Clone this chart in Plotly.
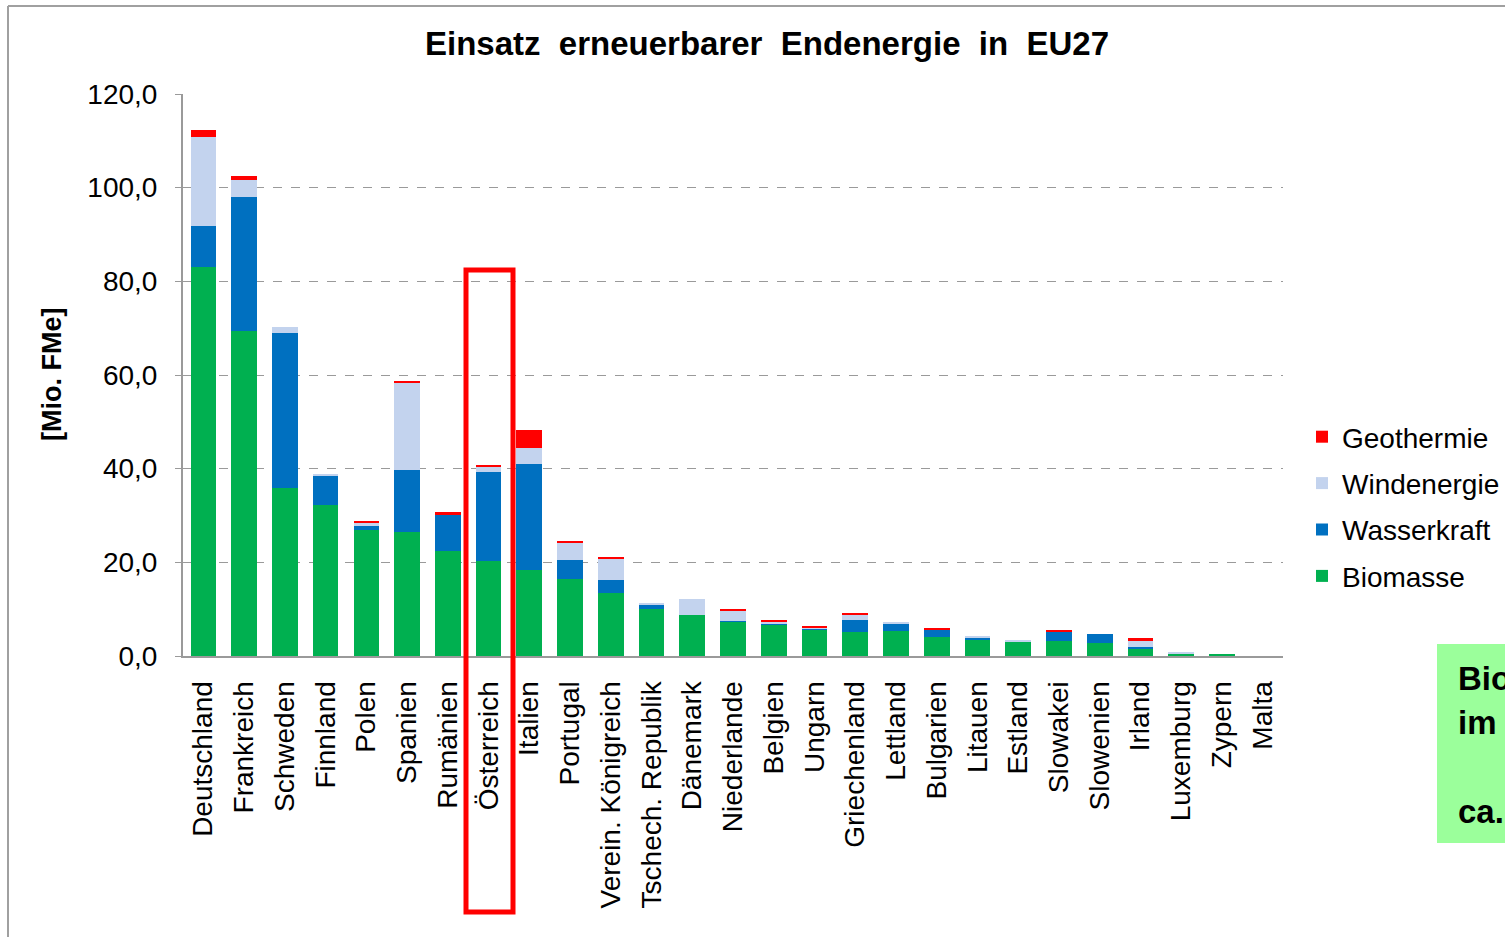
import plotly.graph_objects as go

countries = ["Deutschland", "Frankreich", "Schweden", "Finnland", "Polen", "Spanien",
             "Rumänien", "Österreich", "Italien", "Portugal", "Verein. Königreich",
             "Tschech. Republik", "Dänemark", "Niederlande", "Belgien", "Ungarn",
             "Griechenland", "Lettland", "Bulgarien", "Litauen", "Estland", "Slowakei",
             "Slowenien", "Irland", "Luxemburg", "Zypern", "Malta"]

biomasse = [83.0, 69.5, 35.9, 32.3, 26.9, 26.5, 22.4, 20.3, 18.3, 16.4, 13.4,
            10.0, 8.7, 7.4, 6.8, 5.6, 5.2, 5.3, 4.1, 3.6, 3.1, 3.1,
            2.8, 1.5, 0.6, 0.5, 0.0]
wasserkraft = [8.9, 28.5, 33.0, 6.3, 0.9, 13.2, 7.8, 19.0, 22.7, 4.1, 2.8,
               1.0, 0.0, 0.05, 0.2, 0.2, 2.4, 1.7, 1.5, 0.3, 0.0, 2.1,
               2.0, 0.35, 0.0, 0.0, 0.0]
windenergie = [19.0, 3.7, 1.3, 0.3, 0.7, 18.6, 0.1, 1.1, 3.4, 3.7, 4.7,
               0.4, 3.4, 2.2, 0.3, 0.2, 1.2, 0.3, 0.05, 0.2, 0.3, 0.0,
               0.0, 1.55, 0.2, 0.0, 0.0]
geothermie = [1.4, 0.7, 0.0, 0.0, 0.4, 0.4, 0.4, 0.3, 3.8, 0.4, 0.3,
              0.0, 0.0, 0.4, 0.4, 0.3, 0.3, 0.0, 0.3, 0.0, 0.0, 0.35,
              0.0, 0.4, 0.0, 0.0, 0.0]

y_tickvals = [0, 20, 40, 60, 80, 100, 120]
y_ticktext = ["0,0", "20,0", "40,0", "60,0", "80,0", "100,0", "120,0"]

# (name, values, colour, legend rank) - stacked bottom to top
series = [
    ("Biomasse", biomasse, "#00B050", 4),
    ("Wasserkraft", wasserkraft, "#0070C0", 3),
    ("Windenergie", windenergie, "#C3D3EE", 2),
    ("Geothermie", geothermie, "#FF0000", 1),
]

FONT = "Liberation Sans, Arial, sans-serif"

fig = go.Figure()
for name, vals, col, rank in series:
    fig.add_trace(go.Bar(
        x=countries, y=vals, name=name, legendgroup=name, legendrank=rank,
        marker=dict(color=col, line=dict(width=0)),
    ))

# plot area: x 183..1283, y 94..656
L, R, T, B = 183, 1283, 94, 656
W, H = 1505, 937

def px(x):
    return (x - L) / (R - L)

def py(y):
    return (B - y) / (B - T)

fig.update_layout(
    width=W, height=H,
    margin=dict(l=L, r=W - R, t=T, b=H - B, autoexpand=False),
    barmode="stack",
    bargap=0.37,
    plot_bgcolor="white",
    paper_bgcolor="white",
    font=dict(family=FONT, color="black"),
    title=dict(text="<b>Einsatz  erneuerbarer  Endenergie  in  EU27</b>",
               x=767 / W, xanchor="center", y=1 - 43 / H, yanchor="middle",
               font=dict(size=33, family=FONT, color="black")),
    legend=dict(
        x=px(1302), xanchor="left", y=py(412), yanchor="top",
        traceorder="grouped", tracegroupgap=7,
        font=dict(size=28, family=FONT, color="black"),
        bgcolor="rgba(0,0,0,0)",
    ),
    xaxis=dict(
        type="category",
        automargin=False,
        range=[-0.5, len(countries) - 0.5],
        tickangle=-90,
        tickfont=dict(size=28, family=FONT, color="black"),
        showline=True, linecolor="#9A9A9A", linewidth=2,
        showgrid=False, ticks="", ticklabelstandoff=12,
    ),
    yaxis=dict(
        automargin=False,
        range=[0, 120],
        tickvals=y_tickvals, ticktext=y_ticktext,
        tickfont=dict(size=28, family=FONT, color="black"),
        showline=True, linecolor="#9A9A9A", linewidth=2,
        ticks="outside", ticklen=6, tickcolor="#9A9A9A", tickwidth=1,
        ticklabelstandoff=12,
        showgrid=True, gridcolor="#9A9A9A", griddash="dash", gridwidth=1,
        zeroline=False,
    ),
)

# y axis title
fig.add_annotation(
    text="<b>[Mio. FMe]</b>", xref="paper", yref="paper",
    x=px(52), y=py(375), xanchor="center", yanchor="middle",
    textangle=-90, showarrow=False,
    font=dict(size=27, family=FONT, color="black"),
)

# outer frame (left and top lines)
fig.add_shape(type="line", xref="paper", yref="paper",
              x0=px(8), x1=px(8), y0=py(6), y1=py(940),
              line=dict(color="#A0A0A0", width=2))
fig.add_shape(type="line", xref="paper", yref="paper",
              x0=px(8), x1=px(1510), y0=py(6), y1=py(6),
              line=dict(color="#A0A0A0", width=2))

# red highlight rectangle around Österreich
fig.add_shape(type="rect", xref="paper", yref="paper",
              x0=px(466), x1=px(513), y0=py(270), y1=py(912),
              line=dict(color="#FF0000", width=5), fillcolor="rgba(0,0,0,0)")

# green text box (cut off at right edge, as in the reference)
fig.add_shape(type="rect", xref="paper", yref="paper",
              x0=px(1437), x1=px(1520), y0=py(644), y1=py(843),
              line=dict(width=0), fillcolor="#9BFF9B", layer="below")
for txt, yy in [("Bio", 678), ("im", 722), ("ca.", 811)]:
    fig.add_annotation(
        text="<b>" + txt + "</b>", xref="paper", yref="paper",
        x=px(1456), y=py(yy), xanchor="left", yanchor="middle",
        showarrow=False, font=dict(size=33, family=FONT, color="black"),
    )

fig.write_html("out.html",
               config={"displayModeBar": False},
               post_script="document.body.style.margin='0';document.body.style.overflow='hidden';")
